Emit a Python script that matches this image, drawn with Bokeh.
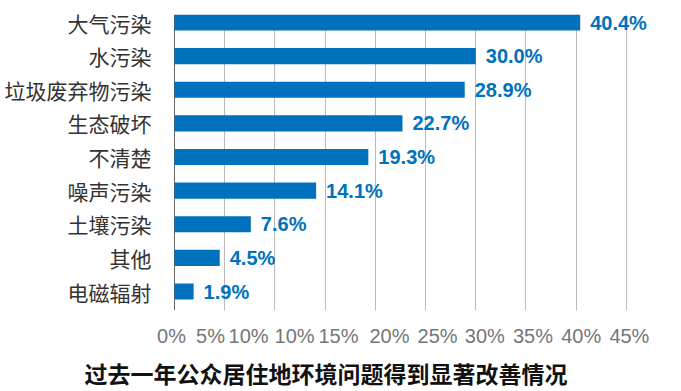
from bokeh.plotting import figure
from bokeh.models import (ColumnDataSource, Range1d, FixedTicker, Grid,
                          CustomJSTickFormatter, Title)
from bokeh.core.properties import value
from bokeh.embed import file_html
from bokeh.resources import INLINE

categories = ["大气污染", "水污染", "垃圾废弃物污染", "生态破坏", "不清楚",
              "噪声污染", "土壤污染", "其他", "电磁辐射"]
percent = [40.4, 30.0, 28.9, 22.7, 19.3, 14.1, 7.6, 4.5, 1.9]
value_labels = ["40.4%", "30.0%", "28.9%", "22.7%", "19.3%", "14.1%", "7.6%", "4.5%", "1.9%"]
tick_labels = ["0%", "5%", "10%", "10%", "15%", "20%", "25%", "30%", "35%", "40%", "45%"]
title_text = "过去一年公众居住地环境问题得到显著改善情况"

n = len(categories)
ypos = list(range(n - 1, -1, -1))

src = ColumnDataSource(dict(y=ypos, v=percent, lab=value_labels, cat=categories))

BLUE = "#0071bc"

p = figure(width=681, height=391, frame_width=490, frame_height=296,
           output_backend="svg", toolbar_location=None,
           x_range=Range1d(-1, 47.8), y_range=Range1d(-0.565, 8.238),
           min_border_left=164, min_border_right=27, min_border_top=14,
           min_border_bottom=81)
p.outline_line_color = None
p.background_fill_color = "white"
p.border_fill_color = "white"

p.hbar(y="y", right="v", left=0, height=0.476, source=src,
       fill_color=BLUE, line_color=None)
p.text(x="v", y="y", text="lab", source=src, x_offset=10,
       text_baseline="middle", text_align="left",
       text_font=value("'Liberation Sans Narrow', 'Liberation Sans', sans-serif"),
       text_font_style="bold", text_font_size="20px", text_color=BLUE)

# grids
p.xgrid.ticker = FixedTicker(ticks=[5, 10, 15, 20, 25, 30, 35, 40, 45])
p.xgrid.grid_line_color = "#b9b9b9"
p.xgrid.grid_line_width = 1
p.ygrid.visible = False
zero = Grid(dimension=0, ticker=FixedTicker(ticks=[0]),
            grid_line_color="#666666", grid_line_width=1)
p.add_layout(zero)

# x axis: label row
tick_pos = [-0.3, 3.58, 7.37, 11.95, 16.33, 21.4, 26.2, 30.9, 35.7, 40.5, 45.3]
p.xaxis.ticker = FixedTicker(ticks=tick_pos)
p.xaxis.formatter = CustomJSTickFormatter(args=dict(labels=tick_labels),
                                          code="return labels[index];")
p.xaxis.axis_line_color = None
p.xaxis.major_tick_line_color = None
p.xaxis.minor_tick_line_color = None
p.xaxis.major_label_standoff = 8
p.xaxis.major_label_text_font = "Liberation Sans"
p.xaxis.major_label_text_font_size = "20px"
p.xaxis.major_label_text_color = "#767676"

# y axis: categories
p.yaxis.ticker = FixedTicker(ticks=ypos)
p.yaxis.major_label_overrides = {y: c for y, c in zip(ypos, categories)}
p.yaxis.axis_line_color = None
p.yaxis.major_tick_line_color = None
p.yaxis.minor_tick_line_color = None
p.yaxis.major_label_standoff = 7
p.yaxis.major_label_text_font = "Noto Sans CJK SC"
p.yaxis.major_label_text_font_size = "21px"
p.yaxis.major_label_text_color = "#333333"

title = Title(text=title_text, align="left", offset=-80,
              text_font="Noto Sans CJK SC", text_font_size="23px",
              text_font_style="bold", text_color="#111111", standoff=8)
p.add_layout(title, "below")

open("out.html", "w").write(file_html(p, INLINE))
